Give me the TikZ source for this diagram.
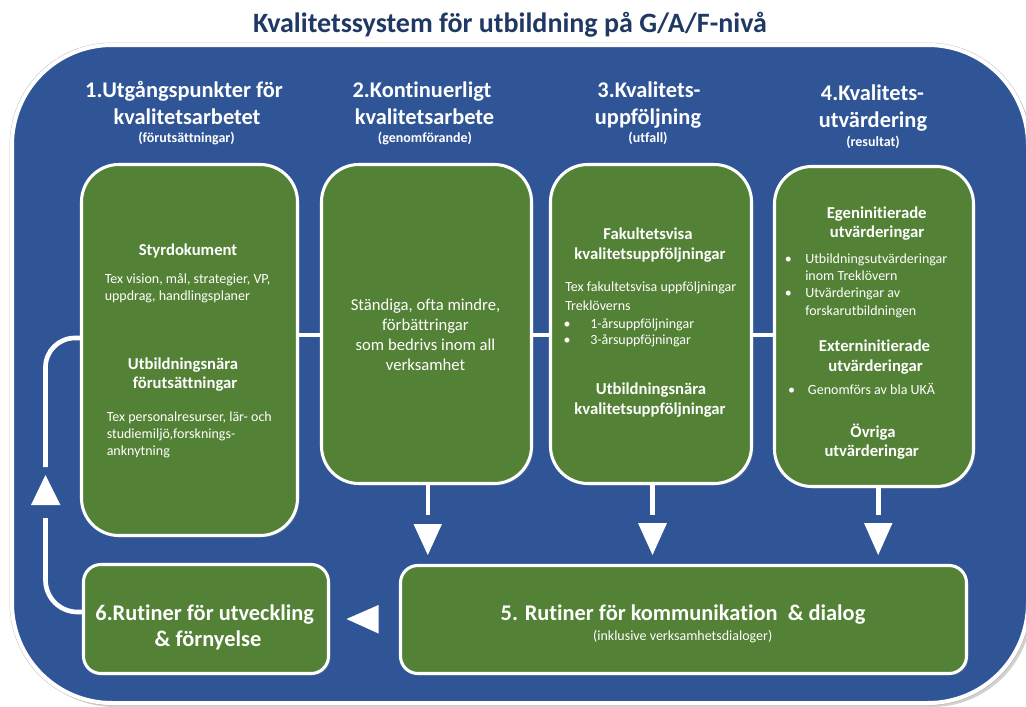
\documentclass[tikz,border=0pt]{standalone}
\usepackage{fontspec}
\setmainfont{Carlito}[Ligatures=NoCommon]
\usetikzlibrary{shadows}
\definecolor{bluebg}{HTML}{2F5597}
\definecolor{greenbx}{HTML}{538135}
\definecolor{navy}{HTML}{1F3864}
\begin{document}
\begin{tikzpicture}[x=0.75pt,y=-0.75pt,
  gbox/.style={draw=white, line width=2.3pt, fill=greenbx, inner sep=0pt,
    drop shadow={shadow xshift=1.5pt, shadow yshift=-1.5pt, opacity=0.35}},
  tallbox/.style={gbox, rounded corners=28pt},
  widebox/.style={gbox, rounded corners=13pt},
  conn/.style={draw=white, line width=3.5pt},
  ttl/.style={inner sep=0pt, anchor=base, text=navy, font=\fontsize{21}{25}\selectfont\bfseries},
  hd/.style={inner sep=0pt, anchor=base, text=white, font=\fontsize{16.8}{20}\selectfont\bfseries},
  hdsub/.style={inner sep=0pt, anchor=base, text=white, font=\fontsize{10.5}{12}\selectfont\bfseries},
  bh/.style={inner sep=0pt, anchor=base, text=white, font=\fontsize{12.5}{15}\selectfont\bfseries},
  mid/.style={inner sep=0pt, anchor=base, text=white, font=\fontsize{12.5}{15}\selectfont},
  sm/.style={inner sep=0pt, anchor=base, text=white, font=\fontsize{10.5}{12.5}\selectfont},
  smw/.style={sm, anchor=base west},
  big/.style={inner sep=0pt, anchor=base, text=white, font=\fontsize{16.8}{20}\selectfont\bfseries}
]
\useasboundingbox (0,0) rectangle (1026,707);
\fill[white] (0,0) rectangle (1026,707);

% outer frame
\draw[black!20, line width=0.6pt, rounded corners=76pt] (10,43) rectangle (1030,705);
\fill[black!40, opacity=0.45, rounded corners=75pt] (15,48) rectangle (1032,707);
\draw[draw=white, line width=3pt, fill=bluebg, rounded corners=75pt] (12,45) rectangle (1028,703);

% title
\node[ttl] (title) at (510,32) {Kvalitetssystem för utbildning på G/A/F-nivå};

% column headers
\node[hd] (h1a) at (184,97) {1.Utgångspunkter för};
\node[hd] (h1b) at (187,124) {kvalitetsarbetet};
\node[hdsub] (h1c) at (186.5,142) {(förutsättningar)};
\node[hd] (h2a) at (422,97) {2.Kontinuerligt};
\node[hd] (h2b) at (424.5,124) {kvalitetsarbete};
\node[hdsub] (h2c) at (425,142) {(genomförande)};
\node[hd] (h3a) at (649,97) {3.Kvalitets-};
\node[hd] (h3b) at (648,124) {uppföljning};
\node[hdsub] (h3c) at (648,142) {(utfall)};
\node[hd] (h4a) at (872.5,100) {4.Kvalitets-};
\node[hd] (h4b) at (873,127.5) {utvärdering};
\node[hdsub] (h4c) at (873,146) {(resultat)};

% boxes
\node[tallbox, minimum width=162pt, minimum height=278.25pt] (b1) at (189.5,350) {};
\node[tallbox, minimum width=157.5pt, minimum height=239.25pt] (b2) at (426.5,324) {};
\node[tallbox, minimum width=150.75pt, minimum height=239.25pt] (b3) at (651,324) {};
\node[tallbox, minimum width=149.25pt, minimum height=240pt] (b4) at (874,326.5) {};
\node[widebox, minimum width=183.75pt, minimum height=81.75pt] (b6) at (206,619) {};
\node[widebox, minimum width=424.5pt, minimum height=81pt] (b5) at (683.5,619.5) {};

% horizontal connectors
\draw[conn] (b1.east |- 0,335) -- (b2.west |- 0,335);
\draw[conn] (b2.east |- 0,335) -- (b3.west |- 0,335);
\draw[conn] (b3.east |- 0,335) -- (b4.west |- 0,335);

% down arrows
\coordinate (d2) at (428,515);
\coordinate (d3) at (652.5,515);
\coordinate (d4) at (878.5,515);
\draw[conn] (b2.south -| d2) -- (d2);
\draw[conn] (b3.south -| d3) -- (d3);
\draw[conn] (b4.south -| d4) -- (d4);
\fill[white] (413.5,524) -- (442,524) -- (427.8,555) -- cycle;
\fill[white] (638,523) -- (667,523) -- (652.5,555) -- cycle;
\fill[white] (864,523) -- (892.5,523) -- (878.2,555) -- cycle;

% left arrow between 5 and 6
\fill[white] (378.5,605) -- (378.5,633.5) -- (346.5,619) -- cycle;

% feedback loop 6 -> 1
\coordinate (lpA) at (45.5,518);
\coordinate (lpB) at (45.5,467);
\draw[conn, rounded corners=24pt] (b6.west |- 0,612) -- (45.5,612) -- (lpA);
\draw[conn, rounded corners=22pt] (lpB) -- (45.5,338) -- (b1.west |- 0,338);
\fill[white] (31,505) -- (60.5,505) -- (45.5,475) -- cycle;

% box 1 text
\node[bh] (s1) at (188,255) {Styrdokument};
\node[smw] (s1a) at (104.5,283.5) {Tex vision, mål, strategier, VP,};
\node[smw] (s1b) at (104.5,300) {uppdrag, handlingsplaner};
\node[bh] (u1) at (183,369.5) {Utbildningsnära};
\node[bh] (u1b) at (185,388.5) {förutsättningar};
\node[smw] (p1) at (106.5,421.5) {Tex personalresurser, lär- och};
\node[smw] (p2) at (106.5,438.5) {studiemiljö,forsknings-};
\node[smw] (p3) at (106.5,455.5) {anknytning};

% box 2 text
\node[mid] (k1) at (425.5,310.7) {Ständiga, ofta mindre,};
\node[mid] (k2) at (425.5,330.7) {förbättringar};
\node[mid] (k3) at (425.5,350.7) {som bedrivs inom all};
\node[mid] (k4) at (425.5,370.7) {verksamhet};

% box 3 text
\node[bh] (f1) at (648,239.3) {Fakultetsvisa};
\node[bh] (f2) at (650,259.3) {kvalitetsuppföljningar};
\node[smw] (f3) at (565,291.7) {Tex fakultetsvisa uppföljningar};
\node[smw] (f4) at (565,310.5) {Treklöverns};
\node[sm] (f5d) at (567,328.3) {•};
\node[smw] (f5) at (590,328.3) {1-årsuppföljningar};
\node[sm] (f6d) at (567,344) {•};
\node[smw] (f6) at (590,344) {3-årsuppföjningar};
\node[bh] (f7) at (651,394) {Utbildningsnära};
\node[bh] (f8) at (650,414) {kvalitetsuppföljningar};

% box 4 text
\node[bh] (e1) at (876.7,218.3) {Egeninitierade};
\node[bh] (e2) at (877,237) {utvärderingar};
\node[sm] (e3d) at (788.3,263.3) {•};
\node[smw] (e3) at (805,263.3) {Utbildningsutvärderingar};
\node[smw] (e4) at (805,280.7) {inom Treklövern};
\node[sm] (e5d) at (788.3,297.3) {•};
\node[smw] (e5) at (805,297.3) {Utvärderingar av};
\node[smw] (e6) at (805,315) {forskarutbildningen};
\node[bh] (x1) at (874.5,351.7) {Externinitierade};
\node[bh] (x2) at (875.5,371) {utvärderingar};
\node[sm] (x3d) at (791.7,394) {•};
\node[smw] (x3) at (807.7,394) {Genomförs av bla UKÄ};
\node[bh] (o1) at (873,437.3) {Övriga};
\node[bh] (o2) at (871.7,456.7) {utvärderingar};

% box 5 and 6 text
\node[big] (r5) at (683,620) {5. Rutiner för kommunikation~ \& dialog};
\node[sm] (r5b) at (682.7,640) {(inklusive verksamhetsdialoger)};
\node[big] (r6) at (204.7,620) {6.Rutiner för utveckling};
\node[big] (r6b) at (208,646) {\& förnyelse};
\end{tikzpicture}
\end{document}
